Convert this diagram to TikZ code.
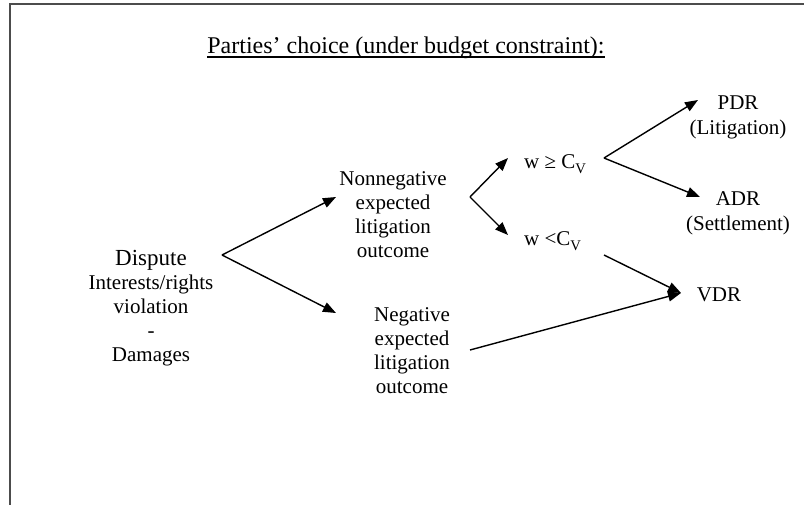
\documentclass[tikz,border=0pt]{standalone}
\usepackage{fontspec}
\setmainfont{Liberation Serif}
\usetikzlibrary{arrows.meta}
\begin{document}
\begin{tikzpicture}[x=1pt,y=-1pt,
  txt/.style={inner sep=0pt, align=center, font=\fontsize{21}{24}\selectfont},
  twoline/.style={inner sep=0pt, align=center, font=\fontsize{21}{25}\selectfont},
  conn/.style={line width=1.4pt, -{Triangle[length=13pt,width=10pt]}},
  frame/.style={line width=2pt, draw=black!70}]
\useasboundingbox (0,0) rectangle (804,504);
\fill[white] (0,0) rectangle (804,504);
\draw[frame] (10,505) -- (10,4) -- (805,4);
% title
\node[inner sep=0pt, anchor=base, font=\fontsize{24}{28}\selectfont] (title) at (406,53) {Parties’ choice (under budget constraint):};
\draw[line width=1.2pt] ([yshift=-4pt]title.base west) -- ([yshift=-4pt]title.base east);
% text nodes
\node[txt] (dispute) at (151,308.5) {{\fontsize{23}{24}\selectfont Dispute}\\Interests/rights\\violation\\-\\Damages};
\node[txt] (nonneg) at (393,215) {Nonnegative\\expected\\litigation\\outcome};
\node[txt] (neg) at (412,351) {Negative\\expected\\litigation\\outcome};
\node[txt, anchor=base west] (wge) at (524,168) {w ≥ C\raisebox{-2pt}{\textsubscript{V}}};
\node[txt, anchor=base west] (wlt) at (524,245) {w <C\raisebox{-2pt}{\textsubscript{V}}};
\node[twoline] (pdr) at (738,117) {PDR\\(Litigation)};
\node[twoline] (adr) at (738,213.4) {ADR\\(Settlement)};
\node[txt, anchor=base] (vdr) at (719,301) {VDR};
% connector points
\coordinate (f1) at (222,255);
\coordinate (t1a) at (336,197);
\coordinate (t1b) at (336,313);
\coordinate (f2) at (470,197);
\coordinate (t2a) at (508,158);
\coordinate (t2b) at (508,235);
\coordinate (f3) at (604,158);
\coordinate (t3a) at (698,100);
\coordinate (t3b) at (700,197);
\coordinate (s4) at (604,255);
\coordinate (t4) at (681,293);
\coordinate (s5) at (470,350);
% connectors
\draw[conn] (f1) -- (t1a);
\draw[conn] (f1) -- (t1b);
\draw[conn] (f2) -- (t2a);
\draw[conn] (f2) -- (t2b);
\draw[conn] (f3) -- (t3a);
\draw[conn] (f3) -- (t3b);
\draw[conn] (s4) -- (t4);
\draw[conn] (s5) -- (t4);
\end{tikzpicture}
\end{document}
